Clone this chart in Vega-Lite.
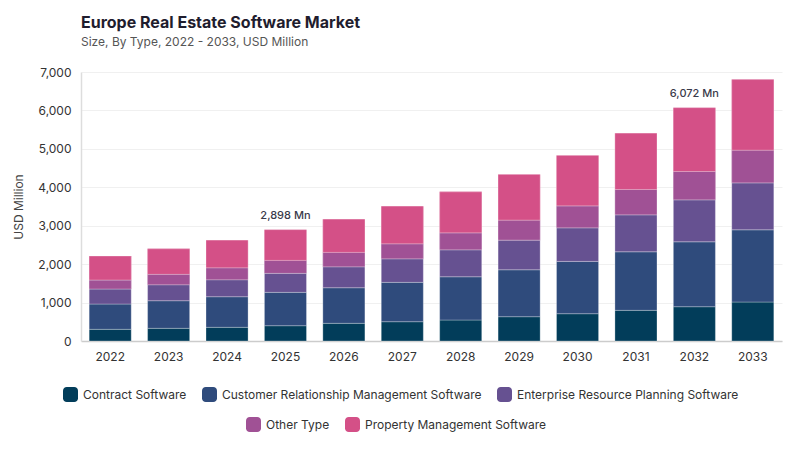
{
  "$schema": "https://vega.github.io/schema/vega-lite/v6.json",
  "width": 701,
  "height": 269,
  "autosize": {"type": "none"},
  "padding": {"left": 81, "top": 72, "right": 18, "bottom": 109},
  "title": {
    "text": "Europe Real Estate Software Market",
    "subtitle": "Size, By Type, 2022 - 2033, USD Million",
    "anchor": "start",
    "frame": "group",
    "font": "Inter",
    "fontSize": 16,
    "fontWeight": 700,
    "color": "#1f1d2e",
    "subtitleFont": "Inter",
    "subtitleFontSize": 12,
    "subtitleColor": "#555555",
    "subtitlePadding": 6,
    "offset": 18
  },
  "datasets": {
    "market": [
      {"year": "2022", "type": "Contract Software", "value": 304},
      {"year": "2023", "type": "Contract Software", "value": 330},
      {"year": "2024", "type": "Contract Software", "value": 356},
      {"year": "2025", "type": "Contract Software", "value": 398},
      {"year": "2026", "type": "Contract Software", "value": 460},
      {"year": "2027", "type": "Contract Software", "value": 502},
      {"year": "2028", "type": "Contract Software", "value": 546},
      {"year": "2029", "type": "Contract Software", "value": 632},
      {"year": "2030", "type": "Contract Software", "value": 710},
      {"year": "2031", "type": "Contract Software", "value": 798},
      {"year": "2032", "type": "Contract Software", "value": 892},
      {"year": "2033", "type": "Contract Software", "value": 1014},
      {"year": "2022", "type": "Customer Relationship Management Software", "value": 658},
      {"year": "2023", "type": "Customer Relationship Management Software", "value": 718},
      {"year": "2024", "type": "Customer Relationship Management Software", "value": 796},
      {"year": "2025", "type": "Customer Relationship Management Software", "value": 868},
      {"year": "2026", "type": "Customer Relationship Management Software", "value": 926},
      {"year": "2027", "type": "Customer Relationship Management Software", "value": 1024},
      {"year": "2028", "type": "Customer Relationship Management Software", "value": 1125},
      {"year": "2029", "type": "Customer Relationship Management Software", "value": 1221},
      {"year": "2030", "type": "Customer Relationship Management Software", "value": 1362},
      {"year": "2031", "type": "Customer Relationship Management Software", "value": 1523},
      {"year": "2032", "type": "Customer Relationship Management Software", "value": 1689},
      {"year": "2033", "type": "Customer Relationship Management Software", "value": 1879},
      {"year": "2022", "type": "Enterprise Resource Planning Software", "value": 390},
      {"year": "2023", "type": "Enterprise Resource Planning Software", "value": 416},
      {"year": "2024", "type": "Enterprise Resource Planning Software", "value": 442},
      {"year": "2025", "type": "Enterprise Resource Planning Software", "value": 494},
      {"year": "2026", "type": "Enterprise Resource Planning Software", "value": 545},
      {"year": "2027", "type": "Enterprise Resource Planning Software", "value": 613},
      {"year": "2028", "type": "Enterprise Resource Planning Software", "value": 702},
      {"year": "2029", "type": "Enterprise Resource Planning Software", "value": 772},
      {"year": "2030", "type": "Enterprise Resource Planning Software", "value": 873},
      {"year": "2031", "type": "Enterprise Resource Planning Software", "value": 962},
      {"year": "2032", "type": "Enterprise Resource Planning Software", "value": 1092},
      {"year": "2033", "type": "Enterprise Resource Planning Software", "value": 1222},
      {"year": "2022", "type": "Other Type", "value": 234},
      {"year": "2023", "type": "Other Type", "value": 270},
      {"year": "2024", "type": "Other Type", "value": 312},
      {"year": "2025", "type": "Other Type", "value": 338},
      {"year": "2026", "type": "Other Type", "value": 375},
      {"year": "2027", "type": "Other Type", "value": 391},
      {"year": "2028", "type": "Other Type", "value": 442},
      {"year": "2029", "type": "Other Type", "value": 520},
      {"year": "2030", "type": "Other Type", "value": 572},
      {"year": "2031", "type": "Other Type", "value": 660},
      {"year": "2032", "type": "Other Type", "value": 738},
      {"year": "2033", "type": "Other Type", "value": 850},
      {"year": "2022", "type": "Property Management Software", "value": 624},
      {"year": "2023", "type": "Property Management Software", "value": 665},
      {"year": "2024", "type": "Property Management Software", "value": 719},
      {"year": "2025", "type": "Property Management Software", "value": 800},
      {"year": "2026", "type": "Property Management Software", "value": 865},
      {"year": "2027", "type": "Property Management Software", "value": 979},
      {"year": "2028", "type": "Property Management Software", "value": 1066},
      {"year": "2029", "type": "Property Management Software", "value": 1188},
      {"year": "2030", "type": "Property Management Software", "value": 1310},
      {"year": "2031", "type": "Property Management Software", "value": 1464},
      {"year": "2032", "type": "Property Management Software", "value": 1661},
      {"year": "2033", "type": "Property Management Software", "value": 1838}
    ],
    "notes": [
      {"year": "2025", "total": 2898, "label": "2,898 Mn"},
      {"year": "2032", "total": 6072, "label": "6,072 Mn"}
    ]
  },
  "layer": [
    {
      "data": {"name": "market"},
      "mark": {"type": "bar"},
      "encoding": {
        "x": {
          "field": "year",
          "type": "ordinal",
          "scale": {"paddingInner": 0.28, "paddingOuter": 0.14},
          "axis": {"title": null, "labelAngle": 0, "ticks": false, "labelPadding": 10, "domainColor": "#cccccc", "domainWidth": 1.5, "grid": false}
        },
        "y": {
          "aggregate": "sum",
          "field": "value",
          "type": "quantitative",
          "stack": "zero",
          "scale": {"domain": [0, 7000], "nice": false, "zero": true},
          "axis": {"title": "USD Million", "values": [0, 1000, 2000, 3000, 4000, 5000, 6000, 7000], "format": ",d", "ticks": false, "labelPadding": 10, "titlePadding": 12, "domainColor": "#dddddd", "domainWidth": 1.5, "gridColor": "#f0f0f0"}
        },
        "fill": {
          "field": "type",
          "type": "nominal",
          "scale": {
            "domain": ["Other Type", "Property Management Software"],
            "range": ["#a05195", "#d45087"]
          },
          "legend": {"legendX": 165, "legendY": 345}
        },
        "order": {"field": "type", "sort": "ascending"}
      }
    },
    {
      "data": {"name": "market"},
      "mark": {"type": "bar", "stroke": "#ffffff", "strokeOpacity": 0.35, "strokeWidth": 0.8},
      "encoding": {
        "x": {
          "field": "year",
          "type": "ordinal",
          "scale": {"paddingInner": 0.28, "paddingOuter": 0.14},
          "axis": {"title": null, "labelAngle": 0, "ticks": false, "labelPadding": 10, "domainColor": "#cccccc", "domainWidth": 1.5, "grid": false}
        },
        "y": {
          "aggregate": "sum",
          "field": "value",
          "type": "quantitative",
          "stack": "zero",
          "scale": {"domain": [0, 7000], "nice": false, "zero": true},
          "axis": {"title": "USD Million", "values": [0, 1000, 2000, 3000, 4000, 5000, 6000, 7000], "format": ",d", "ticks": false, "labelPadding": 10, "titlePadding": 12, "domainColor": "#dddddd", "domainWidth": 1.5, "gridColor": "#f0f0f0"}
        },
        "color": {
          "field": "type",
          "type": "nominal",
          "scale": {
            "domain": ["Contract Software", "Customer Relationship Management Software", "Enterprise Resource Planning Software", "Other Type", "Property Management Software"],
            "range": ["#023d5a", "#2f4b7c", "#665191", "#a05195", "#d45087"]
          },
          "legend": {"values": ["Contract Software", "Customer Relationship Management Software", "Enterprise Resource Planning Software"], "legendX": -18, "legendY": 315}
        },
        "order": {"field": "type", "sort": "ascending"}
      }
    },
    {
      "data": {"name": "notes"},
      "mark": {"type": "text", "baseline": "bottom", "dy": -9, "fontSize": 11, "fontWeight": 500, "color": "#3a3a4a"},
      "encoding": {
        "x": {
          "field": "year",
          "type": "ordinal",
          "scale": {"paddingInner": 0.28, "paddingOuter": 0.14},
          "axis": {"title": null, "labelAngle": 0, "ticks": false, "labelPadding": 10, "domainColor": "#cccccc", "domainWidth": 1.5, "grid": false}
        },
        "y": {
          "field": "total",
          "type": "quantitative",
          "scale": {"domain": [0, 7000], "nice": false, "zero": true},
          "axis": {"title": "USD Million", "values": [0, 1000, 2000, 3000, 4000, 5000, 6000, 7000], "format": ",d", "ticks": false, "labelPadding": 10, "titlePadding": 12, "domainColor": "#dddddd", "domainWidth": 1.5, "gridColor": "#f0f0f0"}
        },
        "text": {"field": "label"}
      }
    }
  ],
  "config": {
    "font": "Inter",
    "view": {"stroke": null},
    "axis": {"labelFont": "Inter", "labelFontSize": 12, "labelColor": "#333333", "titleFont": "Inter", "titleFontSize": 12, "titleFontWeight": 400, "titleColor": "#444444"},
    "legend": {
      "orient": "none",
      "direction": "horizontal",
      "title": null,
      "labelFont": "Inter",
      "labelFontSize": 12,
      "labelColor": "#333333",
      "labelLimit": 400,
      "labelOffset": 5,
      "columnPadding": 15,
      "symbolType": "M-0.5,-1 H0.5 A0.5,0.5 0 0 1 1,-0.5 V0.5 A0.5,0.5 0 0 1 0.5,1 H-0.5 A0.5,0.5 0 0 1 -1,0.5 V-0.5 A0.5,0.5 0 0 1 -0.5,-1 Z",
      "symbolSize": 225,
      "symbolStrokeWidth": 0,
      "symbolOpacity": 1
    }
  }
}
